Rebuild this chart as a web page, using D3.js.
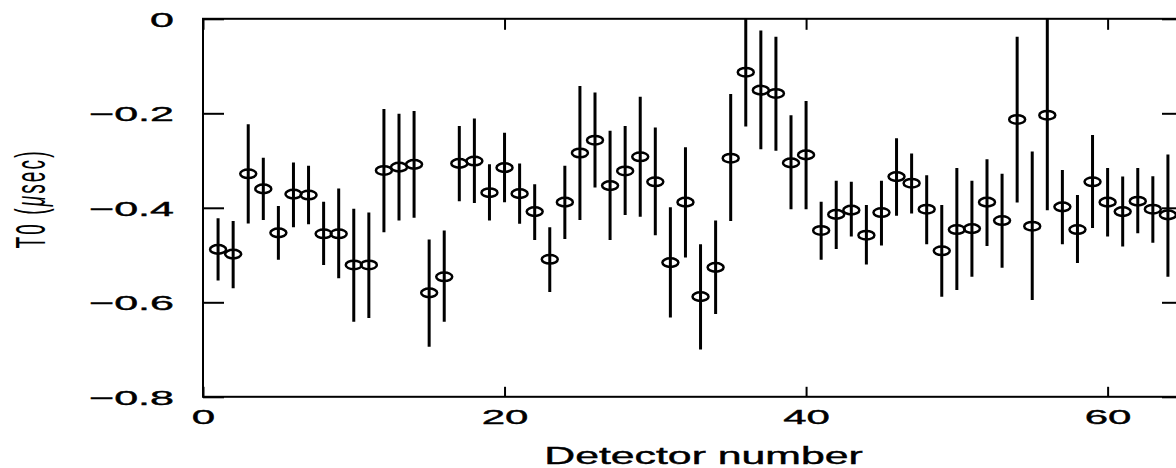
<!DOCTYPE html>
<html>
<head>
<meta charset="utf-8">
<script src="https://cdn.jsdelivr.net/npm/d3@7"></script>
<style>
  body { margin: 0; background: #fff; }
  svg { display: block; }
  text { font-family: "Liberation Sans", Arial, sans-serif; fill: #000; }
</style>
</head>
<body>
<div id="chart"></div>
<script>
// detector number, T0 value and the ends of its error bar (usec)
var detectors = d3.range(1, 65);
var t0 = [-0.488, -0.498, -0.328, -0.360, -0.453, -0.371, -0.373, -0.455, -0.455, -0.521,
          -0.521, -0.321, -0.314, -0.308, -0.580, -0.546, -0.306, -0.301, -0.368, -0.315,
          -0.370, -0.408, -0.509, -0.388, -0.284, -0.257, -0.353, -0.322, -0.292, -0.345,
          -0.516, -0.388, -0.588, -0.526, -0.295, -0.113, -0.151, -0.158, -0.305, -0.288,
          -0.448, -0.414, -0.405, -0.458, -0.410, -0.334, -0.348, -0.403, -0.491, -0.446,
          -0.444, -0.388, -0.427, -0.213, -0.439, -0.204, -0.398, -0.446, -0.345, -0.388,
          -0.408, -0.386, -0.403, -0.415];
var errTop = [-0.422, -0.428, -0.223, -0.294, -0.396, -0.304, -0.311, -0.387, -0.359, -0.402,
              -0.410, -0.191, -0.201, -0.195, -0.467, -0.448, -0.227, -0.211, -0.308, -0.241,
              -0.306, -0.350, -0.441, -0.311, -0.142, -0.156, -0.237, -0.227, -0.165, -0.230,
              -0.399, -0.272, -0.477, -0.427, -0.159, 0.000, -0.025, -0.038, -0.204, -0.174,
              -0.387, -0.343, -0.345, -0.394, -0.343, -0.253, -0.285, -0.331, -0.394, -0.316,
              -0.343, -0.297, -0.328, -0.038, -0.281, 0.000, -0.320, -0.373, -0.246, -0.316,
              -0.334, -0.316, -0.333, -0.287];
var errBottom = [-0.554, -0.570, -0.433, -0.426, -0.510, -0.441, -0.435, -0.521, -0.549, -0.641,
                 -0.633, -0.452, -0.427, -0.421, -0.694, -0.641, -0.386, -0.390, -0.427, -0.388,
                 -0.434, -0.468, -0.578, -0.466, -0.426, -0.357, -0.468, -0.415, -0.419, -0.458,
                 -0.632, -0.505, -0.700, -0.625, -0.428, -0.228, -0.276, -0.279, -0.403, -0.403,
                 -0.510, -0.487, -0.461, -0.520, -0.480, -0.417, -0.412, -0.477, -0.588, -0.574,
                 -0.546, -0.481, -0.527, -0.389, -0.595, -0.405, -0.477, -0.517, -0.443, -0.461,
                 -0.482, -0.454, -0.474, -0.546];
var xTicks = [0, 20, 40, 60];
var yTicks = [-0.8, -0.6, -0.4, -0.2, 0];

var width = 1176, height = 468;
var pLeft = 203, pRight = 1183, pTop = 18.8, pBottom = 396.8;

var data = detectors.map(function(d, i){
    return {n: d, v: t0[i], hi: errTop[i], lo: errBottom[i]};
});

var x = d3.scaleLinear().domain([0, 65]).range([pLeft, pRight]);
var y = d3.scaleLinear().domain([-0.8, 0]).range([pBottom, pTop]);

var svg = d3.select("#chart").append("svg")
    .attr("width", width)
    .attr("height", height);

var fmt = function(d){ return d === 0 ? "0" : d3.format(".1f")(d); };

// left axis, ticks pointing in
var gl = svg.append("g")
    .attr("transform", "translate(" + pLeft + ",0)")
    .call(d3.axisLeft(y).tickValues(yTicks).tickSize(-21).tickFormat(fmt));
gl.selectAll("text")
    .attr("x", null).attr("dy", null)
    .attr("text-anchor", "end")
    .attr("font-size", 21)
    .attr("stroke", "#000").attr("stroke-width", 0.4)
    .attr("transform", "translate(-29,7.5) scale(2.05,1)");

// right axis, no labels
svg.append("g")
    .attr("transform", "translate(" + pRight + ",0)")
    .call(d3.axisRight(y).tickValues(yTicks).tickSize(-21).tickFormat(""));

// bottom axis
var gb = svg.append("g")
    .attr("transform", "translate(0," + pBottom + ")")
    .call(d3.axisBottom(x).tickValues(xTicks).tickSize(-10).tickFormat(d3.format("d")));
gb.selectAll("text")
    .attr("y", null).attr("dy", null)
    .attr("text-anchor", "middle")
    .attr("font-size", 21)
    .attr("stroke", "#000").attr("stroke-width", 0.4)
    .attr("transform", "translate(0,27) scale(2,1)");

// top axis, no labels
svg.append("g")
    .attr("transform", "translate(0," + pTop + ")")
    .call(d3.axisTop(x).tickValues(xTicks).tickSize(-11).tickFormat(""));

svg.selectAll(".domain").remove();
svg.selectAll(".tick line").attr("stroke", "#000").attr("stroke-width", 2);

// frame
svg.append("rect")
    .attr("x", pLeft).attr("y", pTop)
    .attr("width", pRight - pLeft).attr("height", pBottom - pTop)
    .attr("fill", "none")
    .attr("stroke", "#000")
    .attr("stroke-width", 2);

svg.append("clipPath").attr("id", "plot")
    .append("rect")
    .attr("x", pLeft).attr("y", pTop)
    .attr("width", pRight - pLeft).attr("height", pBottom - pTop);

var marks = svg.append("g").attr("clip-path", "url(#plot)");

// error bars
marks.selectAll(".err")
    .data(data)
  .enter().append("line")
    .attr("class", "err")
    .attr("x1", function(d){ return x(d.n); })
    .attr("x2", function(d){ return x(d.n); })
    .attr("y1", function(d){ return y(d.hi); })
    .attr("y2", function(d){ return y(d.lo); })
    .attr("stroke", "#000")
    .attr("stroke-width", 3);

// open markers
marks.selectAll(".pt")
    .data(data)
  .enter().append("ellipse")
    .attr("class", "pt")
    .attr("cx", function(d){ return x(d.n); })
    .attr("cy", function(d){ return y(d.v); })
    .attr("rx", 8)
    .attr("ry", 4.3)
    .attr("fill", "none")
    .attr("stroke", "#000")
    .attr("stroke-width", 2.5);

// axis titles
svg.append("text")
    .attr("text-anchor", "middle")
    .attr("font-size", 23)
    .attr("stroke", "#000").attr("stroke-width", 0.4)
    .attr("transform", "translate(703.5,464) scale(1.86,1)")
    .text("Detector number");

var yl = svg.append("text")
    .attr("text-anchor", "middle")
    .attr("font-size", 19)
    .attr("textLength", 97)
    .attr("lengthAdjust", "spacing")
    .attr("transform", "translate(45,200) rotate(-90) scale(1,2.2)");
yl.append("tspan").text("T0 (");
yl.append("tspan").attr("font-style", "italic").text("\u03bc");
yl.append("tspan").text("sec)");
</script>
</body>
</html>
